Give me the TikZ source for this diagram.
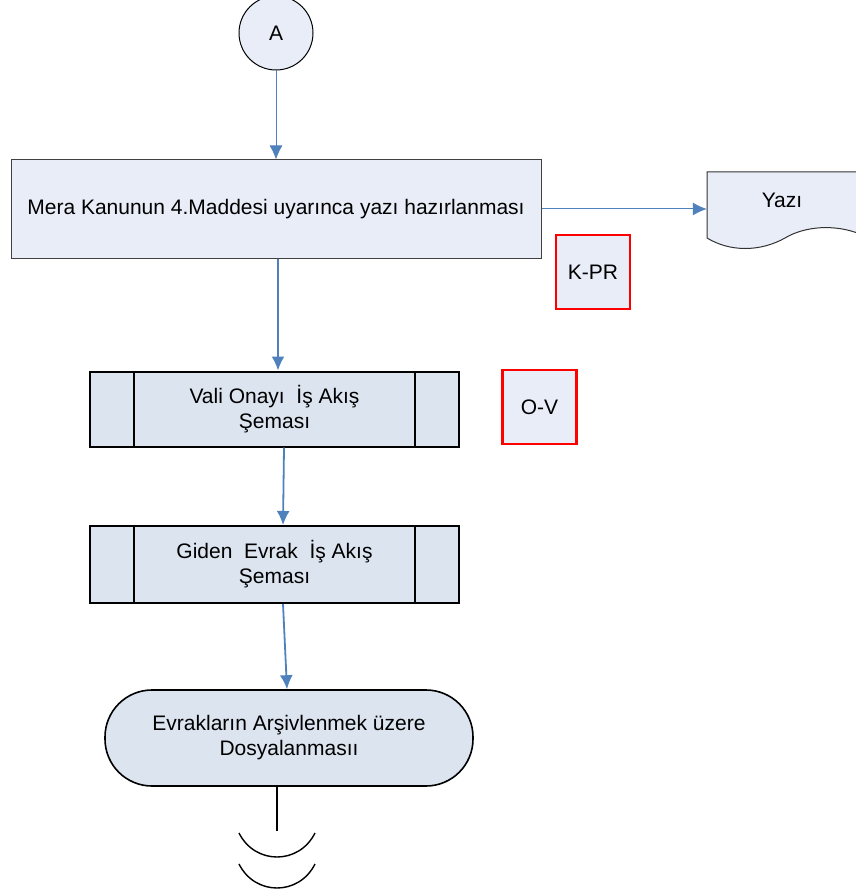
\documentclass[tikz,border=0pt]{standalone}
\usepackage{fontspec}
\setmainfont{Liberation Sans}
\usepackage{tikz}
\usetikzlibrary{calc}
\usetikzlibrary{arrows.meta}
\usetikzlibrary{positioning}
\definecolor{lavender}{RGB}{233, 237, 248}
\definecolor{steel}{RGB}{220, 228, 240}
\definecolor{flowblue}{RGB}{79, 129, 189}
\definecolor{kred}{RGB}{255, 0, 0}
\tikzset{
  txt/.style={font=\fontsize{21}{25}\selectfont, align=center, text=black},
  flow/.style={draw=flowblue, line width=1.8pt, -{Latex[length=14pt,width=13pt]}},
  taskbox/.style={txt, draw=black!75, line width=1pt, fill=lavender, minimum width=530pt, minimum height=98pt},
  subproc/.style={txt, draw=black, line width=2pt, fill=steel, minimum width=369pt, minimum height=75pt,
    path picture={\draw[line width=2pt] ([xshift=44pt]path picture bounding box.north west) -- ([xshift=44pt]path picture bounding box.south west);
                  \draw[line width=2pt] ([xshift=-44pt]path picture bounding box.north east) -- ([xshift=-44pt]path picture bounding box.south east);}},
  codebox/.style={txt, draw=kred, line width=2.6pt, fill=lavender, minimum size=74pt},
  endbox/.style={txt, draw=black, line width=1.6pt, fill=steel, rounded corners=47pt, minimum width=368pt, minimum height=96pt}
}
\begin{document}
\begin{tikzpicture}[x=1pt, y=-1pt]
            \useasboundingbox (0,0) rectangle (855,893);
            \node[txt, circle, draw=black, line width=1pt, fill=lavender, minimum size=74pt] (conA) at (276,33) {A};
            \node[taskbox] (yazihaz) at (276,209) {Mera Kanunun 4.Maddesi uyarınca yazı hazırlanması};
            \node[txt, minimum width=150pt, minimum height=66pt, inner sep=0pt] (yazi) at (782,209) {};
            \filldraw[draw=black!80, fill=lavender, line width=1pt] (707,172) -- (870,172) -- (870,236)
                 -- (860,234) .. controls (835,224) and (805,226) .. (785,238)
                 .. controls (760,252) and (730,252) .. (707,238) -- cycle;
            \node[txt] at (782,200) {Yazı};
            \node[codebox] (kpr) at (593,272) {K-PR};
            \node[subproc] (vali) at (274.5,409) {Vali Onayı \ İş Akış\\Şeması};
            \node[codebox] (ov) at (539.5,407) {O-V};
            \node[subproc, minimum height=77pt] (giden) at (274.5,564.5) {Giden \ Evrak \ İş Akış\\Şeması};
            \node[endbox] (arsiv) at (289,738) {Evrakların Arşivlenmek üzere\\Dosyalanmasıı};
            \coordinate (kopuk) at (277,831);
            \draw[flow, line width=1pt] (conA.south) -- (yazihaz.north);
            \draw[flow, line width=1pt] (yazihaz.east) -- (yazi.west);
            \draw[flow] ([xshift=2pt]yazihaz.south) -- ([xshift=3.5pt]vali.north);
            \draw[flow] ([xshift=9.5pt]vali.south) -- ([xshift=8.5pt]giden.north);
            \draw[flow] ([xshift=8.5pt]giden.south) -- ([xshift=-2pt]arsiv.north);
            \draw[line width=1.4pt] ([xshift=-12pt]arsiv.south) -- (kopuk);
            \draw[line width=1.4pt] (239,833) .. controls (255,865) and (299,865) .. (315,833);
            \draw[line width=1.4pt] (239,864) .. controls (255,896) and (299,896) .. (315,864);
        \end{tikzpicture}
\end{document}
